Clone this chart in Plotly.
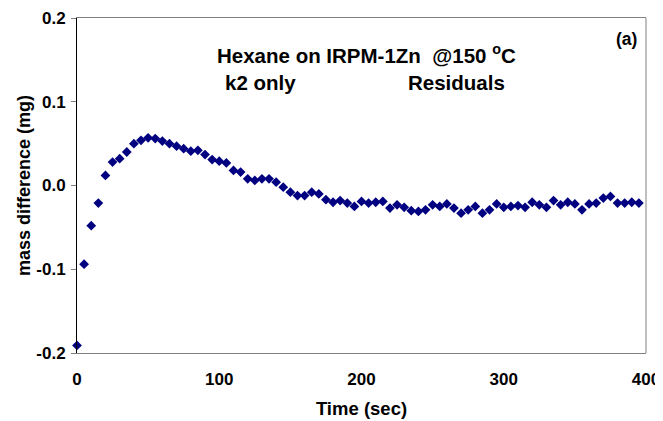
import plotly.graph_objects as go

# Time (sec)
time_sec = [0, 5, 10, 15, 20, 25, 30, 35, 40, 45,
            50, 55, 60, 65, 70, 75, 80, 85, 90, 95,
            100, 105, 110, 115, 120, 125, 130, 135, 140, 145,
            150, 155, 160, 165, 170, 175, 180, 185, 190, 195,
            200, 205, 210, 215, 220, 225, 230, 235, 240, 245,
            250, 255, 260, 265, 270, 275, 280, 285, 290, 295,
            300, 305, 310, 315, 320, 325, 330, 335, 340, 345,
            350, 355, 360, 365, 370, 375, 380, 385, 390, 395]

# Residual mass difference (mg)
residual_mg = [-0.191, -0.094, -0.048, -0.021, 0.012, 0.028, 0.032, 0.040, 0.050, 0.054,
               0.057, 0.056, 0.053, 0.050, 0.047, 0.044, 0.041, 0.042, 0.037, 0.031,
               0.029, 0.027, 0.018, 0.016, 0.008, 0.006, 0.008, 0.008, 0.004, -0.002,
               -0.008, -0.012, -0.012, -0.008, -0.010, -0.017, -0.020, -0.018, -0.021, -0.025,
               -0.019, -0.021, -0.020, -0.019, -0.027, -0.023, -0.026, -0.030, -0.031, -0.029,
               -0.023, -0.025, -0.022, -0.027, -0.033, -0.029, -0.025, -0.033, -0.029, -0.022,
               -0.026, -0.025, -0.024, -0.026, -0.020, -0.023, -0.026, -0.018, -0.023, -0.020,
               -0.022, -0.029, -0.022, -0.021, -0.015, -0.013, -0.021, -0.021, -0.020, -0.021]

x_ticks = [0, 100, 200, 300, 400]
y_ticks = [-0.2, -0.1, 0.0, 0.1, 0.2]
y_tick_labels = ["-0.2", "-0.1", "0.0", "0.1", "0.2"]

FONT = "Arial, Liberation Sans, sans-serif"

fig = go.Figure()
fig.add_trace(go.Scatter(
    x=time_sec, y=residual_mg, mode="markers", cliponaxis=False,
    marker=dict(symbol="diamond", size=7.5, color="#000080",
                line=dict(width=0)),
    showlegend=False,
))

fig.update_layout(
    width=655, height=413,
    margin=dict(l=69, r=17, t=10, b=68),
    paper_bgcolor="white", plot_bgcolor="white",
    font=dict(family=FONT, color="black", size=17),
    xaxis=dict(
        range=[0, 400], tickvals=x_ticks, ticks="", automargin=False,
        showline=True, linecolor="#808080", linewidth=1, mirror=True,
        showgrid=False, zeroline=False,
        tickfont=dict(family=FONT, size=17, color="black", weight="bold"),
        ticklabelstandoff=11,
        title=dict(text="<b>Time (sec)</b>", font=dict(family=FONT, size=18.5),
                   standoff=13),
    ),
    yaxis=dict(
        range=[-0.2, 0.2], tickvals=y_ticks, ticktext=y_tick_labels, automargin=False,
        ticks="outside", ticklen=5, tickcolor="#808080", tickwidth=1,
        showline=True, linecolor="black", linewidth=1, mirror=False,
        showgrid=False, zeroline=False,
        tickfont=dict(family=FONT, size=17, color="black", weight="bold"),
        ticklabelstandoff=2,
        title=dict(text="<b>mass difference (mg)</b>", font=dict(family=FONT, size=18),
                   standoff=1),
    ),
    shapes=[dict(type="line", xref="paper", yref="paper", x0=1, x1=1, y0=0, y1=1,
                 line=dict(color="#808080", width=1))],
    annotations=[
        dict(text="<b>Hexane on IRPM-1Zn  @150 <sup>o</sup>C</b>", xref="paper", yref="paper",
             x=0.508, y=0.8925, xanchor="center", yanchor="middle", showarrow=False,
             font=dict(family=FONT, size=20.5, color="black")),
        dict(text="<b>k2 only</b>", xref="paper", yref="paper",
             x=0.3223, y=0.806, xanchor="center", yanchor="middle", showarrow=False,
             font=dict(family=FONT, size=20.5, color="black")),
        dict(text="<b>Residuals</b>", xref="paper", yref="paper",
             x=0.6663, y=0.806, xanchor="center", yanchor="middle", showarrow=False,
             font=dict(family=FONT, size=20.5, color="black")),
        dict(text="<b>(a)</b>", xref="paper", yref="paper",
             x=0.9653, y=0.937, xanchor="center", yanchor="middle", showarrow=False,
             font=dict(family=FONT, size=17.5, color="black")),
    ],
)

fig.write_html("out.html")
